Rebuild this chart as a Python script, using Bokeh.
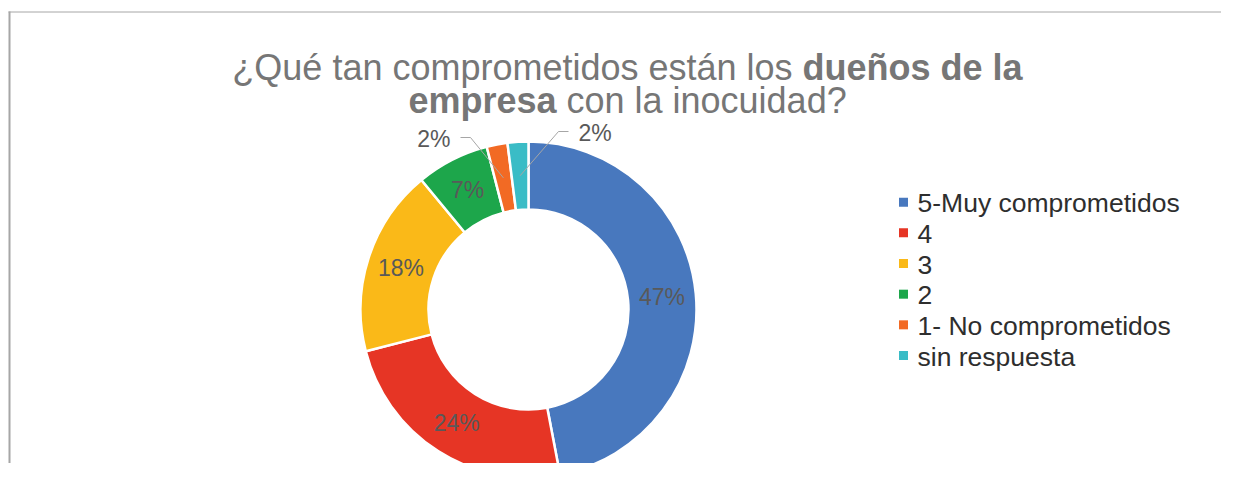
import numpy as np
from bokeh.plotting import figure
from bokeh.models import Range1d, Label, ColumnDataSource
from bokeh.embed import file_html
from bokeh.resources import INLINE
from bokeh.core.properties import value

# ---- data ----
categories = ["5-Muy comprometidos", "4", "3", "2", "1- No comprometidos", "sin respuesta"]
values = [47, 24, 18, 7, 2, 2]
colors = ["#4878BE", "#E63525", "#FAB918", "#1DA64B", "#F26A24", "#3ABCC6"]
title_line1 = ("¿Qué tan comprometidos están los", "dueños de la")   # (regular, bold)
title_line2 = ("empresa", "con la inocuidad?")                       # (bold, regular)

# ---- layout ----
W, H = 1221, 463
FONT = "Liberation Sans"
p = figure(width=W, height=H, output_backend="svg", toolbar_location=None,
           x_range=Range1d(0, W), y_range=Range1d(0, H), min_border=0,
           x_axis_location=None, y_axis_location=None)
p.grid.visible = False
p.outline_line_color = None
p.background_fill_color = "white"
p.border_fill_color = "white"

def Y(py):
    return H - py

# chart border (left + top)
p.segment(x0=[9, 8], y0=[Y(11), Y(11.5)], x1=[9, W], y1=[0, Y(11.5)],
          line_color="#A6A6A6", line_width=[2, 1])

# ---- donut ----
CX, CY = 528, Y(309)
R_IN, R_OUT = 100, 168
vals = np.array(values, dtype=float)
frac = vals / vals.sum()
cum = np.concatenate([[0.0], np.cumsum(frac)])
start = np.pi / 2 - 2 * np.pi * cum[1:]
end = np.pi / 2 - 2 * np.pi * cum[:-1]
src = ColumnDataSource(dict(start=start, end=end, color=colors, cat=categories))
p.annular_wedge(x=CX, y=CY, inner_radius=R_IN, outer_radius=R_OUT,
                inner_radius_units="screen", outer_radius_units="screen",
                start_angle="start", end_angle="end", direction="anticlock",
                fill_color="color", line_color="white", line_width=2.5, source=src)

# ---- data labels ----
mid = 2 * np.pi * (cum[:-1] + cum[1:]) / 2
RM = (R_IN + R_OUT) / 2
mx = CX + RM * np.sin(mid)
my = CY + RM * np.cos(mid)
labels = [f"{v}%" for v in values]
LBL = dict(text_font=value(FONT), text_font_size="23px", text_color="#595959")

inside = [i for i in range(len(values)) if values[i] >= 5]
p.text(x=[mx[i] for i in inside], y=[my[i] for i in inside],
       text=[labels[i] for i in inside], text_align="center",
       text_baseline="middle", **LBL)

# outside labels with leader lines (elbow position, horizontal run, side)
outside = {4: (470, 137, -10, "right"), 5: (558, 131, 10, "left")}
for i, (ex, ey, run, side) in outside.items():
    p.line(x=[mx[i], ex, ex + run], y=[my[i], Y(ey), Y(ey)],
           line_color="#A6A6A6", line_width=1)
    tx = ex + run + (-10 if side == "right" else 10)
    p.text(x=[tx], y=[Y(ey) - 1], text=[labels[i]], text_align=side,
           text_baseline="middle", **LBL)

# ---- legend ----
LX, LY0, LDY = 903, 201.7, 30.66
ly = [Y(LY0 + k * LDY) for k in range(len(categories))]
p.scatter(x=[LX] * len(categories), y=ly, marker="square", size=9,
          fill_color=colors, line_color=None)
p.text(x=[LX + 14] * len(categories), y=[v - 1 for v in ly], text=categories,
       text_align="left", text_baseline="middle", text_font=value(FONT),
       text_font_size="26.5px", text_color="#2E2E2E")

# ---- title (mixed regular / bold) ----
REG = {" ": 278, "¿": 611, "Q": 778, "u": 556, "é": 556, "t": 278, "a": 556, "n": 556,
       "c": 500, "o": 556, "m": 833, "p": 556, "r": 333, "e": 556, "i": 222, "d": 556,
       "s": 500, "á": 556, "l": 222, "?": 556}
BOLD = {" ": 278, "d": 611, "u": 611, "e": 556, "ñ": 611, "o": 611, "s": 556, "l": 278,
        "a": 556, "m": 889, "p": 611, "r": 389}

def tw(s, table, fs):
    return sum(table.get(ch, 556) for ch in s) / 1000 * fs

TFS = 36
TCX = 627
TCOL = "#767676"
sp = 278 / 1000 * TFS
B1, B2 = 67, 100

w1a = tw(title_line1[0], REG, TFS)
w1b = tw(title_line1[1], BOLD, TFS)
x1 = TCX - (w1a + sp + w1b) / 2
p.add_layout(Label(x=x1, y=Y(B1), text=title_line1[0], text_font=FONT,
                   text_font_size=f"{TFS}px", text_color=TCOL, text_baseline="alphabetic"))
p.add_layout(Label(x=x1 + w1a + sp, y=Y(B1), text=title_line1[1], text_font=FONT,
                   text_font_size=f"{TFS}px", text_color=TCOL, text_font_style="bold",
                   text_baseline="alphabetic"))

w2a = tw(title_line2[0], BOLD, TFS)
w2b = tw(title_line2[1], REG, TFS)
x2 = TCX - (w2a + sp + w2b) / 2
p.add_layout(Label(x=x2, y=Y(B2), text=title_line2[0], text_font=FONT,
                   text_font_size=f"{TFS}px", text_color=TCOL, text_font_style="bold",
                   text_baseline="alphabetic"))
p.add_layout(Label(x=x2 + w2a + sp, y=Y(B2), text=title_line2[1], text_font=FONT,
                   text_font_size=f"{TFS}px", text_color=TCOL, text_baseline="alphabetic"))

open("out.html", "w").write(file_html(p, INLINE))
